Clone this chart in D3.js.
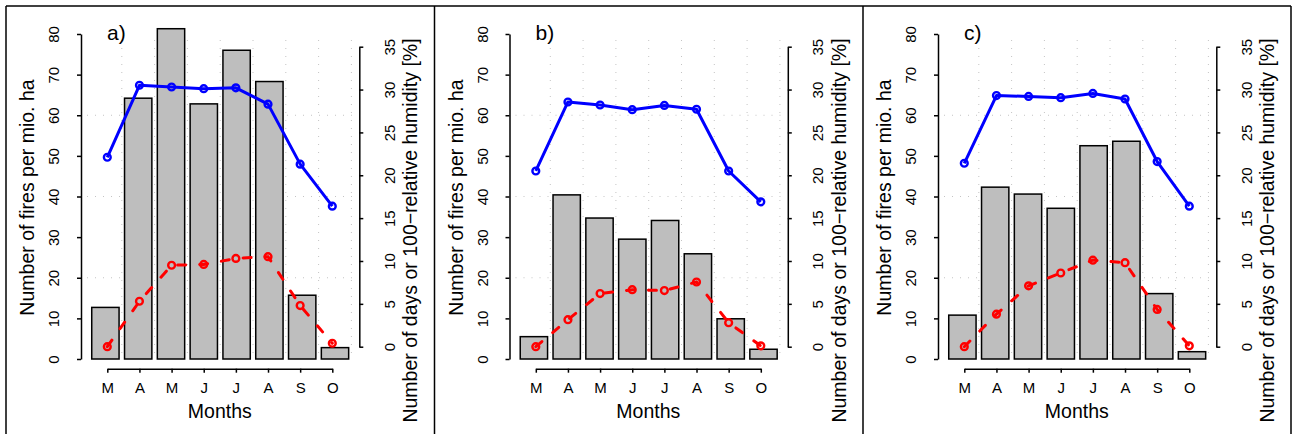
<!DOCTYPE html>
<html>
<head>
<meta charset="utf-8">
<script src="https://cdn.jsdelivr.net/npm/d3@7"></script>
<style>
  html, body { margin: 0; padding: 0; background: #fff; }
  svg { display: block; font-family: "Liberation Sans", Arial, Helvetica, sans-serif; }
</style>
</head>
<body>
<svg id="chart" width="1297" height="434"></svg>
<script>
// ---- data ----
const months = ["M", "A", "M", "J", "J", "A", "S", "O"];
const panelLabels = ["a)", "b)", "c)"];

// bars: number of fires per mio. ha (left axis)
const firesA = [12.7, 64.2, 81.3, 62.8, 76.0, 68.3, 15.7, 2.8];
const firesB = [5.5, 40.4, 34.7, 29.5, 34.1, 25.9, 9.9, 2.4];
const firesC = [10.8, 42.3, 40.6, 37.1, 52.5, 53.6, 16.1, 1.8];

// blue solid line: 100 - relative humidity [%] (right axis)
const humidityA = [22.1, 30.5, 30.3, 30.1, 30.2, 28.3, 21.3, 16.4];
const humidityB = [20.5, 28.55, 28.2, 27.65, 28.15, 27.7, 20.5, 16.9];
const humidityC = [21.4, 29.3, 29.2, 29.05, 29.55, 28.9, 21.6, 16.4];

// red dashed line: number of days (right axis)
const daysA = [0.0, 5.3, 9.5, 9.6, 10.3, 10.5, 4.8, 0.4];
const daysB = [0.0, 3.15, 6.2, 6.65, 6.55, 7.55, 2.8, 0.1];
const daysC = [0.0, 3.8, 7.1, 8.6, 10.1, 9.8, 4.35, 0.1];

const leftTicks = [0, 10, 20, 30, 40, 50, 60, 70, 80];
const rightTicks = [0, 5, 10, 15, 20, 25, 30, 35];
const gridValues = [20, 40, 60];

const leftTitle = "Number of fires per mio. ha";
const rightTitle = "Number of days or 100\u2212relative humidity [%]";
const xTitle = "Months";

const panels = [
  { label: panelLabels[0], fires: firesA, hum: humidityA, days: daysA },
  { label: panelLabels[1], fires: firesB, hum: humidityB, days: daysB },
  { label: panelLabels[2], fires: firesC, hum: humidityC, days: daysC }
];

// ---- layout ----
const svg = d3.select("#chart");
const panelDX = [0, 428.5, 857];
const FONT = '"Liberation Sans", Arial, Helvetica, sans-serif';

// frame
const frame = svg.append("g").attr("stroke", "#000").attr("stroke-width", 1.5);
frame.append("line").attr("x1", 6).attr("x2", 1291).attr("y1", 6).attr("y2", 6);
[6, 434.5, 863, 1291].forEach(x => {
  frame.append("line").attr("x1", x).attr("x2", x).attr("y1", 6).attr("y2", 434);
});

panels.forEach((p, pi) => {
  const dx = panelDX[pi];
  const g = svg.append("g");

  const yLeft = d3.scaleLinear().domain([0, 80]).range([359, 34]);
  const yRight = d3.scaleLinear().domain([0, 35]).range([346.7, 46.7]);
  const xBand = d3.scaleBand().domain(d3.range(months.length))
    .range([89 + dx, 351.4 + dx]).paddingInner(1 / 6).paddingOuter(1 / 12);
  const xPoint = d3.scalePoint().domain(d3.range(months.length))
    .range([107.3 + dx, 332.3 + dx]);

  // grid (dotted)
  const grid = g.append("g").attr("stroke", "#c4c4c4").attr("stroke-width", 1)
    .attr("stroke-dasharray", "1,7");
  const gap = xBand.step() - xBand.bandwidth();
  d3.range(months.length).forEach(i => {
    const x = xBand(i) + xBand.bandwidth() + gap / 2;
    grid.append("line").attr("x1", x).attr("x2", x).attr("y1", 40).attr("y2", yLeft(0));
  });
  gridValues.forEach(v => {
    grid.append("line")
      .attr("x1", xBand.range()[0] - 2).attr("x2", xBand.range()[1] + 1)
      .attr("y1", yLeft(v)).attr("y2", yLeft(v));
  });

  // bars
  g.append("g").selectAll("rect").data(p.fires).join("rect")
    .attr("x", (d, i) => xBand(i))
    .attr("width", xBand.bandwidth())
    .attr("y", d => yLeft(d))
    .attr("height", d => yLeft(0) - yLeft(d))
    .attr("fill", "#bebebe")
    .attr("stroke", "#000")
    .attr("stroke-width", 1.5);

  // lines
  const line = d3.line().x((d, i) => xPoint(i)).y(d => yRight(d));
  g.append("path").datum(p.hum).attr("d", line)
    .attr("fill", "none").attr("stroke", "#0000ff").attr("stroke-width", 3)
    .attr("stroke-linejoin", "round");
  g.append("path").datum(p.days).attr("d", line)
    .attr("fill", "none").attr("stroke", "#ff0000").attr("stroke-width", 3)
    .attr("stroke-dasharray", "8,14").attr("stroke-linecap", "round");

  g.append("g").selectAll("circle").data(p.hum).join("circle")
    .attr("cx", (d, i) => xPoint(i)).attr("cy", d => yRight(d)).attr("r", 3.4)
    .attr("fill", "none").attr("stroke", "#0000ff").attr("stroke-width", 2.4);
  g.append("g").selectAll("circle").data(p.days).join("circle")
    .attr("cx", (d, i) => xPoint(i)).attr("cy", d => yRight(d)).attr("r", 3.4)
    .attr("fill", "none").attr("stroke", "#ff0000").attr("stroke-width", 2.4);

  // axes
  const axL = g.append("g").attr("transform", `translate(${81 + dx},0)`)
    .call(d3.axisLeft(yLeft).tickValues(leftTicks).tickSize(4).tickSizeOuter(0));
  const axR = g.append("g").attr("transform", `translate(${359.3 + dx},0)`)
    .call(d3.axisRight(yRight).tickValues(rightTicks).tickSize(4).tickSizeOuter(0));
  const axB = g.append("g").attr("transform", `translate(0,368.7)`)
    .call(d3.axisBottom(xPoint).tickFormat(i => months[i]).tickSize(4).tickSizeOuter(0));

  [axL, axR, axB].forEach(ax => {
    ax.attr("font-family", FONT).attr("font-size", 15);
    ax.selectAll("path, line").attr("stroke", "#000").attr("stroke-width", 1.5);
    ax.selectAll("text").attr("fill", "#000");
  });
  axL.selectAll("text").attr("transform", "rotate(-90)")
    .attr("x", 0).attr("y", -22).attr("dy", 0).attr("text-anchor", "middle");
  axR.selectAll("text").attr("transform", "rotate(-90)")
    .attr("x", 0).attr("y", 35.7).attr("dy", 0).attr("text-anchor", "middle");
  axB.selectAll("text").attr("y", 24.3).attr("dy", 0);

  // titles
  g.append("text").attr("transform", `translate(${34 + dx},197.5) rotate(-90)`)
    .attr("text-anchor", "middle").attr("font-size", 19.5).text(leftTitle);
  g.append("text").attr("transform", `translate(${417 + dx},230.5) rotate(-90)`)
    .attr("text-anchor", "middle").attr("font-size", 19.5).text(rightTitle);
  g.append("text").attr("x", (xPoint.range()[0] + xPoint.range()[1]) / 2).attr("y", 418)
    .attr("text-anchor", "middle").attr("font-size", 19.5).text(xTitle);

  // panel label
  g.append("text").attr("x", 107 + dx).attr("y", 40)
    .attr("font-size", 21).text(p.label);
});
</script>
</body>
</html>
